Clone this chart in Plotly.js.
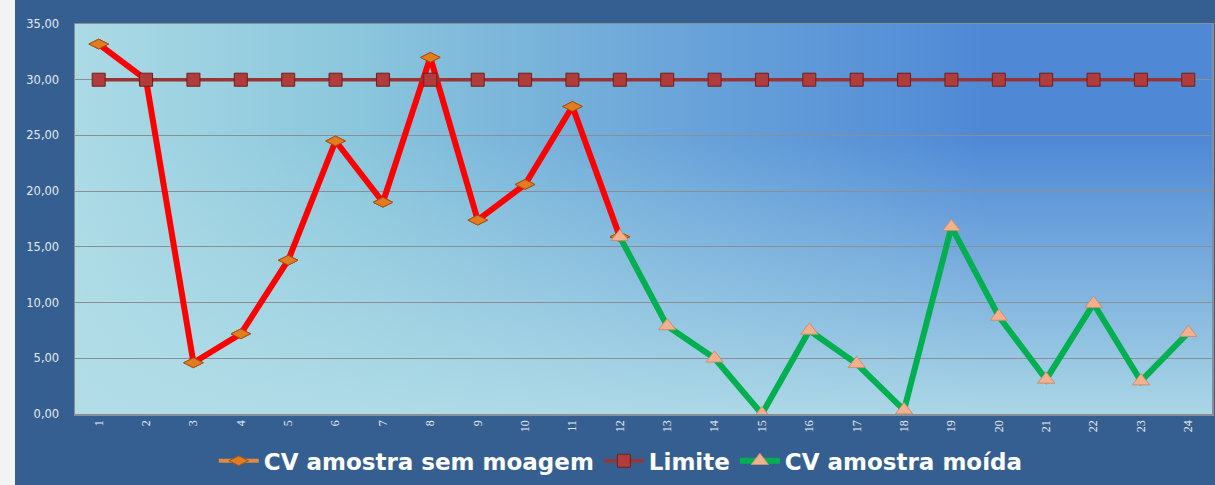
<!DOCTYPE html>
<html><head><meta charset="utf-8">
<script src="https://cdn.plot.ly/plotly-3.0.1.min.js"></script>
<style>
html,body{margin:0;padding:0;background:#f3f3f3;width:1215px;height:485px;overflow:hidden;}
#chart{position:absolute;left:15px;top:0;width:1200px;height:485px;}
</style></head>
<body><div id="chart"></div>
<script>
// ---- data ----
const categories = ['1','2','3','4','5','6','7','8','9','10','11','12','13','14','15','16','17','18','19','20','21','22','23','24'];
const semMoagemCats = ['1','2','3','4','5','6','7','8','9','10','11','12'];
const semMoagem = [33.2, 30.0, 4.6, 7.2, 13.8, 24.5, 19.0, 32.0, 17.4, 20.6, 27.6, 15.9];
const limite = [30,30,30,30,30,30,30,30,30,30,30,30,30,30,30,30,30,30,30,30,30,30,30,30];
const moidaCats = ['12','13','14','15','16','17','18','19','20','21','22','23','24'];
const moida = [15.9, 7.9, 5.0, 0.0, 7.5, 4.5, 0.35, 16.8, 8.75, 3.1, 9.9, 2.95, 7.3];
const seriesNames = ['CV amostra sem moagem', 'Limite', 'CV amostra moída'];

const bgSvg = "<svg xmlns='http://www.w3.org/2000/svg' width='1137' height='392' viewBox='0 0 1137 392' preserveAspectRatio='none'>" +
 "<defs><linearGradient id='g' x1='0' y1='0' x2='1' y2='0'>" +
 "<stop offset='0' stop-color='#abdae5'/><stop offset='0.25' stop-color='#8ac6dc'/>" +
 "<stop offset='0.55' stop-color='#68a2d9'/><stop offset='0.8' stop-color='#4f89d6'/><stop offset='1' stop-color='#4f89d6'/></linearGradient>" +
 "<linearGradient id='v' x1='0' y1='0' x2='0' y2='1'>" +
 "<stop offset='0.3' stop-color='#b2dde7' stop-opacity='0'/><stop offset='1' stop-color='#b2dde7' stop-opacity='0.92'/></linearGradient></defs>" +
 "<rect width='1137' height='392' fill='url(#g)'/><rect width='1137' height='392' fill='url(#v)'/></svg>";
const bgSrc = 'data:image/svg+xml;charset=utf-8,' + encodeURIComponent(bgSvg);

const traces = [
  { // legend entry for series 1 (orange line hidden below red)
    x: semMoagemCats, y: semMoagem, name: seriesNames[0], type: 'scatter', mode: 'lines+markers',
    line: {color: '#e08a3c', width: 4},
    marker: {symbol: 'diamond-wide', size: 14, color: '#e07d22', line: {color: '#a85010', width: 1}}
  },
  {
    x: semMoagemCats, y: semMoagem, type: 'scatter', mode: 'lines', showlegend: false, hoverinfo: 'skip',
    line: {color: '#ff0000', width: 6}
  },
  {
    x: semMoagemCats, y: semMoagem, type: 'scatter', mode: 'markers', showlegend: false,
    marker: {symbol: 'diamond-wide', size: 14, color: '#e07d22', line: {color: '#a85010', width: 1}}
  },
  {
    x: categories, y: limite, name: seriesNames[1], type: 'scatter', mode: 'lines+markers',
    line: {color: '#9a3434', width: 3.5},
    marker: {symbol: 'square', size: 13, color: '#b03c3c', line: {color: '#6e1e1e', width: 1}}
  },
  {
    x: moidaCats, y: moida, name: seriesNames[2], type: 'scatter', mode: 'lines+markers',
    line: {color: '#00b050', width: 6},
    marker: {symbol: 'triangle-up', size: 15, color: '#f2b08e', line: {color: '#c89070', width: 1}}
  }
];

const layout = {
  width: 1200, height: 485,
  margin: {l: 60, r: 3, t: 24, b: 69},
  paper_bgcolor: '#365f91',
  plot_bgcolor: 'rgba(0,0,0,0)',
  separators: ',.',
  showlegend: true,
  images: [{source: bgSrc, xref: 'paper', yref: 'paper', x: 0, y: 1, sizex: 1, sizey: 1,
            xanchor: 'left', yanchor: 'top', sizing: 'stretch', layer: 'below'}],
  xaxis: {
    type: 'category', categoryorder: 'array', categoryarray: categories, range: [-0.5, 23.5],
    tickangle: -90, tickfont: {family: 'Liberation Serif', size: 12, color: '#e3e8ef'},
    showgrid: false, showline: true, linecolor: '#8a8f96', linewidth: 1.5, mirror: true,
    ticks: '', fixedrange: true
  },
  yaxis: {
    range: [0, 35], dtick: 5, tickformat: '.2f',
    tickfont: {family: 'DejaVu Sans', size: 11.5, color: '#e3e8ef'},
    showgrid: true, gridcolor: '#8a8f96', gridwidth: 1,
    zeroline: false, showline: true, linecolor: '#8a8f96', linewidth: 1.5, mirror: true,
    ticks: 'outside', ticklen: 12, tickcolor: 'rgba(0,0,0,0)', fixedrange: true
  },
  legend: {
    orientation: 'h', x: 0.48, xanchor: 'center', y: -0.12, yanchor: 'middle',
    font: {family: 'DejaVu Sans', size: 23, color: '#ffffff', weight: 'bold'},
    bgcolor: 'rgba(0,0,0,0)', itemwidth: 40, tracegroupgap: 0
  }
};

Plotly.newPlot('chart', traces, layout, {displayModeBar: false, staticPlot: true});
</script></body></html>
